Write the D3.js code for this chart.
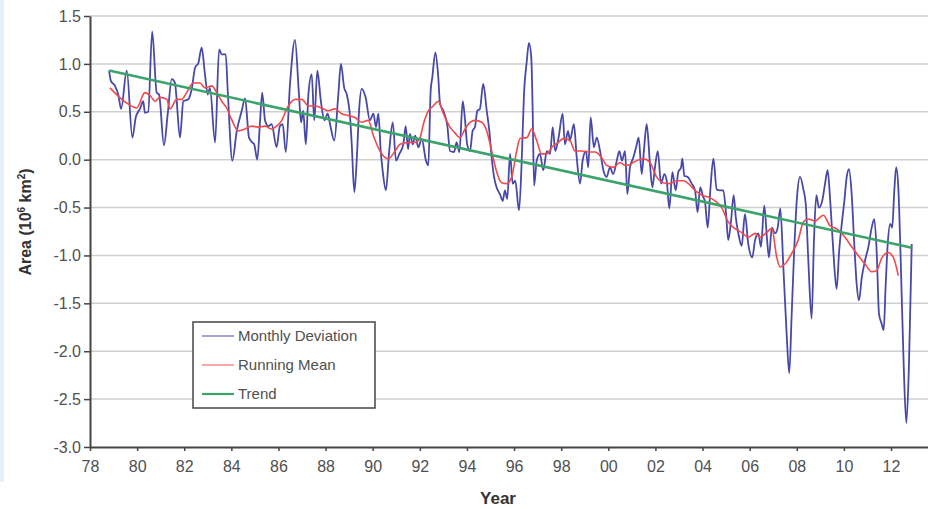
<!DOCTYPE html>
<html>
<head>
<meta charset="utf-8">
<script src="https://cdn.jsdelivr.net/npm/d3@7"></script>
<style>
  body { margin: 0; background: white; }
  text { font-family: Arial, "Liberation Sans", sans-serif; }
</style>
</head>
<body>
<svg id="chart"></svg>
<script>
// monthly deviation (decimal year / value)
var monthlyYears = [1978.81,1978.89,1979.06,1979.20,1979.32,1979.56,1979.80,1979.94,1980.12,1980.26,1980.33,1980.47,1980.64,1980.83,1980.93,1981.14,1981.30,1981.47,1981.61,1981.66,1981.82,1981.96,1982.17,1982.32,1982.46,1982.60,1982.74,1982.88,1983.00,1983.09,1983.31,1983.48,1983.59,1983.76,1983.85,1984.04,1984.23,1984.44,1984.58,1984.75,1984.89,1984.97,1985.10,1985.22,1985.31,1985.43,1985.57,1985.71,1985.92,1986.06,1986.18,1986.31,1986.49,1986.70,1986.87,1986.96,1987.05,1987.16,1987.27,1987.41,1987.52,1987.65,1987.80,1987.95,1988.09,1988.19,1988.37,1988.54,1988.65,1988.79,1988.90,1989.04,1989.11,1989.22,1989.32,1989.42,1989.53,1989.70,1989.88,1990.03,1990.14,1990.24,1990.34,1990.42,1990.56,1990.70,1990.85,1990.99,1991.13,1991.30,1991.40,1991.50,1991.58,1991.70,1991.80,1991.94,1992.08,1992.26,1992.36,1992.46,1992.53,1992.66,1992.78,1992.86,1993.00,1993.17,1993.28,1993.45,1993.56,1993.68,1993.82,1993.92,1994.01,1994.13,1994.24,1994.34,1994.44,1994.55,1994.69,1994.84,1994.95,1995.05,1995.15,1995.26,1995.40,1995.52,1995.61,1995.71,1995.83,1995.94,1996.05,1996.21,1996.32,1996.42,1996.54,1996.63,1996.73,1996.79,1996.85,1996.96,1997.10,1997.24,1997.39,1997.53,1997.64,1997.75,1997.89,1998.06,1998.16,1998.29,1998.37,1998.54,1998.66,1998.80,1998.91,1999.05,1999.15,1999.25,1999.39,1999.51,1999.65,1999.79,1999.93,2000.07,2000.21,2000.36,2000.47,2000.58,2000.71,2000.81,2000.92,2001.06,2001.18,2001.29,2001.42,2001.51,2001.63,2001.77,2001.87,2001.98,2002.10,2002.24,2002.38,2002.48,2002.59,2002.72,2002.86,2002.97,2003.09,2003.14,2003.23,2003.37,2003.54,2003.68,2003.79,2003.90,2004.03,2004.10,2004.22,2004.33,2004.46,2004.60,2004.74,2004.88,2005.00,2005.09,2005.21,2005.32,2005.41,2005.52,2005.66,2005.80,2005.94,2006.11,2006.23,2006.37,2006.48,2006.62,2006.74,2006.82,2006.94,2007.08,2007.19,2007.30,2007.43,2007.57,2007.68,2007.78,2007.89,2008.01,2008.14,2008.28,2008.38,2008.49,2008.63,2008.73,2008.83,2008.94,2009.08,2009.20,2009.31,2009.42,2009.55,2009.69,2009.80,2009.91,2010.02,2010.12,2010.22,2010.33,2010.44,2010.54,2010.64,2010.76,2010.90,2011.04,2011.18,2011.29,2011.39,2011.49,2011.60,2011.69,2011.77,2011.86,2011.97,2012.05,2012.14,2012.22,2012.31,2012.42,2012.54,2012.65,2012.76,2012.88];
var monthlyValues = [0.93,0.82,0.77,0.68,0.53,0.93,0.23,0.44,0.53,0.61,0.49,0.50,1.34,0.70,0.68,0.15,0.48,0.84,0.80,0.68,0.23,0.61,0.63,0.74,0.96,1.01,1.17,0.89,0.68,0.75,0.18,1.15,1.10,1.10,0.70,-0.01,0.30,0.51,0.64,0.23,0.18,0.16,0.00,0.41,0.70,0.41,0.35,0.37,0.13,0.35,0.37,0.08,0.79,1.25,0.68,0.39,0.51,0.16,0.68,0.89,0.41,0.93,0.61,0.41,0.48,0.37,0.20,0.68,1.00,0.75,0.68,0.44,0.16,-0.34,-0.01,0.51,0.74,0.65,0.41,0.48,0.34,0.48,0.09,-0.11,-0.32,0.09,0.39,-0.01,0.06,0.16,0.35,0.11,0.27,0.16,0.25,0.13,0.22,-0.01,-0.06,0.72,0.86,1.12,0.87,0.58,0.51,0.35,0.09,0.08,0.18,0.08,0.61,0.41,0.16,0.09,0.30,0.34,0.51,0.53,0.79,0.51,0.30,0.02,-0.18,-0.29,-0.36,-0.43,-0.32,-0.41,0.06,-0.25,-0.22,-0.53,-0.04,0.68,1.03,1.22,1.07,0.51,-0.27,-0.01,0.06,-0.11,0.09,0.06,0.34,0.09,0.23,0.48,0.16,0.30,0.20,0.37,0.02,-0.25,-0.01,0.09,-0.08,0.44,0.13,0.23,0.09,-0.11,-0.18,-0.08,-0.15,-0.01,0.09,-0.01,0.09,-0.36,-0.08,0.02,0.13,0.23,-0.15,0.09,0.37,-0.05,-0.29,-0.08,0.09,-0.25,-0.15,-0.22,-0.51,-0.13,-0.32,-0.13,-0.08,0.01,-0.17,-0.18,-0.25,-0.32,-0.55,-0.29,-0.39,-0.43,-0.71,-0.32,0.01,-0.31,-0.32,-0.32,-0.57,-0.84,-0.64,-0.37,-0.60,-0.77,-0.90,-0.57,-0.88,-1.02,-0.84,-0.77,-0.91,-0.48,-0.84,-1.02,-0.71,-0.77,-0.71,-0.51,-1.12,-1.82,-2.23,-1.64,-0.95,-0.39,-0.18,-0.31,-0.46,-1.05,-1.66,-0.84,-0.37,-0.50,-0.43,-0.25,-0.11,-0.43,-0.95,-1.35,-0.95,-0.67,-0.43,-0.18,-0.10,-0.36,-0.88,-1.29,-1.47,-1.23,-1.05,-0.91,-0.71,-0.62,-0.95,-1.61,-1.71,-1.78,-1.33,-0.88,-0.67,-0.71,-0.32,-0.08,-0.29,-1.12,-2.16,-2.75,-2.16,-0.88];

// running mean
var meanYears = [1978.85,1979.35,1979.63,1979.98,1980.33,1980.55,1980.76,1980.97,1981.26,1981.40,1981.68,1981.89,1982.10,1982.38,1982.67,1982.88,1983.17,1983.38,1983.59,1983.80,1984.01,1984.29,1984.58,1984.86,1985.14,1985.43,1985.71,1985.92,1986.14,1986.35,1986.70,1986.99,1987.27,1987.55,1987.83,1988.11,1988.40,1988.68,1988.96,1989.25,1989.53,1989.81,1990.03,1990.31,1990.66,1990.95,1991.16,1991.51,1991.80,1992.01,1992.15,1992.36,1992.57,1992.78,1993.00,1993.28,1993.49,1993.70,1993.92,1994.13,1994.34,1994.63,1994.84,1995.05,1995.23,1995.47,1995.69,1995.90,1996.11,1996.25,1996.54,1996.75,1996.96,1997.17,1997.39,1997.60,1997.88,1998.09,1998.37,1998.59,1998.87,1999.15,1999.44,1999.72,1999.93,2000.21,2000.50,2000.71,2000.92,2001.20,2001.49,2001.77,2002.05,2002.33,2002.62,2002.90,2003.19,2003.40,2003.68,2003.96,2004.24,2004.53,2004.81,2005.09,2005.38,2005.66,2005.94,2006.23,2006.44,2006.72,2006.94,2007.15,2007.29,2007.50,2007.78,2008.06,2008.28,2008.49,2008.77,2009.13,2009.41,2009.69,2010.05,2010.33,2010.61,2010.90,2011.18,2011.39,2011.60,2011.88,2012.10,2012.31];
var meanValues = [0.75,0.63,0.58,0.54,0.70,0.67,0.61,0.65,0.63,0.53,0.63,0.63,0.70,0.80,0.80,0.75,0.77,0.70,0.61,0.54,0.42,0.30,0.32,0.35,0.34,0.35,0.32,0.35,0.41,0.53,0.63,0.63,0.56,0.56,0.54,0.51,0.53,0.48,0.46,0.44,0.39,0.41,0.25,0.09,0.01,0.09,0.16,0.18,0.18,0.23,0.37,0.51,0.56,0.61,0.48,0.34,0.28,0.23,0.32,0.39,0.41,0.39,0.30,0.09,-0.10,-0.24,-0.25,-0.18,0.09,0.22,0.23,0.32,0.20,0.06,0.06,0.13,0.18,0.22,0.20,0.09,0.09,0.08,0.08,0.02,-0.06,-0.08,-0.03,-0.06,-0.05,-0.01,0.01,-0.03,-0.18,-0.24,-0.25,-0.22,-0.22,-0.25,-0.32,-0.37,-0.39,-0.43,-0.50,-0.65,-0.72,-0.76,-0.81,-0.77,-0.81,-0.76,-0.72,-1.02,-1.12,-1.09,-0.98,-0.84,-0.65,-0.62,-0.64,-0.58,-0.69,-0.72,-0.81,-0.91,-1.00,-1.09,-1.17,-1.16,-1.03,-0.97,-1.02,-1.21];

// linear trend, end points
var trendYears = [1978.81, 2012.88];
var trendValues = [0.93, -0.92];

var xTickYears = [1978,1980,1982,1984,1986,1988,1990,1992,1994,1996,1998,2000,2002,2004,2006,2008,2010,2012];
var yTickValues = [-3.0,-2.5,-2.0,-1.5,-1.0,-0.5,0.0,0.5,1.0,1.5];

var legendNames = ["Monthly Deviation", "Running Mean", "Trend"];

var screen = { width: 928, height: 509 };
var margins = { top: 16, bottom: 62, left: 90, right: 0 };

var colors = {
  monthly: "#4848a8",
  mean: "#f24a4a",
  trend: "#3aa46a",
  grid: "#cfcfcf",
  axis: "#454545",
  text: "#505050"
};

var drawChart = function(svgSelector)
{
  var graphWidth  = screen.width - margins.left - margins.right;
  var graphHeight = screen.height - margins.top - margins.bottom;

  var svg = d3.select(svgSelector)
              .attr("width", screen.width)
              .attr("height", screen.height);

  // thin pale strip on the left edge of the picture
  svg.append("rect")
     .attr("x", 0).attr("y", 0)
     .attr("width", 4).attr("height", 482)
     .attr("fill", "#e4f0fa");

  var xScale = d3.scaleLinear()
                 .domain([1978, 2013.57])
                 .range([margins.left, margins.left + graphWidth]);

  var yScale = d3.scaleLinear()
                 .domain([-3, 1.5])
                 .range([margins.top + graphHeight, margins.top]);

  // gridlines
  svg.append("g")
     .selectAll("line")
     .data(yTickValues.filter(function(v){ return v > -3; }))
     .enter()
     .append("line")
     .attr("x1", margins.left)
     .attr("x2", margins.left + graphWidth)
     .attr("y1", function(v){ return yScale(v); })
     .attr("y2", function(v){ return yScale(v); })
     .style("stroke", colors.grid)
     .style("stroke-width", 1.5);

  // axes
  var yAxis = d3.axisLeft(yScale)
                .tickValues(yTickValues)
                .tickFormat(function(v){ return v.toFixed(1); })
                .tickSizeInner(6)
                .tickSizeOuter(0)
                .tickPadding(3);

  var xAxis = d3.axisBottom(xScale)
                .tickValues(xTickYears)
                .tickFormat(function(yr){ return d3.format("02d")(yr % 100); })
                .tickSizeInner(4)
                .tickSizeOuter(0)
                .tickPadding(10);

  var yG = svg.append("g")
              .attr("transform", "translate(" + margins.left + ",0)")
              .call(yAxis);

  var xG = svg.append("g")
              .attr("transform", "translate(0," + (margins.top + graphHeight) + ")")
              .call(xAxis);

  [yG, xG].forEach(function(g){
    g.select(".domain").style("stroke", colors.axis).style("stroke-width", 2);
    g.selectAll(".tick line").style("stroke", colors.axis).style("stroke-width", 1.5);
    g.selectAll(".tick text")
     .style("fill", colors.text)
     .style("font-size", "16px");
  });

  // series
  var lineDrawer = d3.line()
                     .x(function(d){ return xScale(d[0]); })
                     .y(function(d){ return yScale(d[1]); })
                     .curve(d3.curveMonotoneX);

  var monthly = d3.zip(monthlyYears, monthlyValues);
  var mean = d3.zip(meanYears, meanValues);
  var trend = d3.zip(trendYears, trendValues);

  var plot = svg.append("g").classed("graph-data", true);

  plot.append("path")
      .datum(monthly)
      .attr("d", lineDrawer)
      .attr("fill", "none")
      .style("stroke", colors.monthly)
      .style("stroke-width", 1.8)
      .style("stroke-linejoin", "round");

  plot.append("path")
      .datum(mean)
      .attr("d", lineDrawer)
      .attr("fill", "none")
      .style("stroke", colors.mean)
      .style("stroke-width", 1.6);

  plot.append("path")
      .datum(trend)
      .attr("d", lineDrawer)
      .attr("fill", "none")
      .style("stroke", colors.trend)
      .style("stroke-width", 2.6);

  // legend
  var legend = svg.append("g").attr("transform", "translate(193,322)");

  legend.append("rect")
        .attr("width", 182)
        .attr("height", 86)
        .attr("fill", "white")
        .style("stroke", colors.axis)
        .style("stroke-width", 1.5);

  var legendColors = [colors.monthly, colors.mean, colors.trend];
  var legendWidths = [1.3, 1.3, 2.2];

  var rows = legend.selectAll("g.row")
                   .data(legendNames)
                   .enter()
                   .append("g")
                   .attr("class", "row")
                   .attr("transform", function(d, i){ return "translate(0," + (14 + i * 29) + ")"; });

  rows.append("line")
      .attr("x1", 9).attr("x2", 41)
      .style("stroke", function(d, i){ return legendColors[i]; })
      .style("stroke-width", function(d, i){ return legendWidths[i]; })
      .style("opacity", function(d, i){ return i < 2 ? 0.75 : 1; });

  rows.append("text")
      .text(function(d){ return d; })
      .attr("x", 45)
      .attr("dy", "0.35em")
      .style("font-size", "15px")
      .style("fill", colors.text);

  // axis titles
  svg.append("text")
     .text("Year")
     .attr("x", margins.left + 408)
     .attr("y", 504)
     .attr("text-anchor", "middle")
     .style("font-size", "17px")
     .style("font-weight", "bold")
     .style("fill", "#333");

  var yLabel = svg.append("text")
                  .attr("transform", "translate(31,222) rotate(-90)")
                  .attr("text-anchor", "middle")
                  .style("font-size", "16px")
                  .style("font-weight", "bold")
                  .style("fill", "#333");
  yLabel.append("tspan").text("Area (10");
  yLabel.append("tspan").text("6").attr("dy", -6).style("font-size", "10px");
  yLabel.append("tspan").text(" km").attr("dy", 6);
  yLabel.append("tspan").text("2").attr("dy", -6).style("font-size", "10px");
  yLabel.append("tspan").text(")").attr("dy", 6);
};

drawChart("#chart");
</script>
</body>
</html>
